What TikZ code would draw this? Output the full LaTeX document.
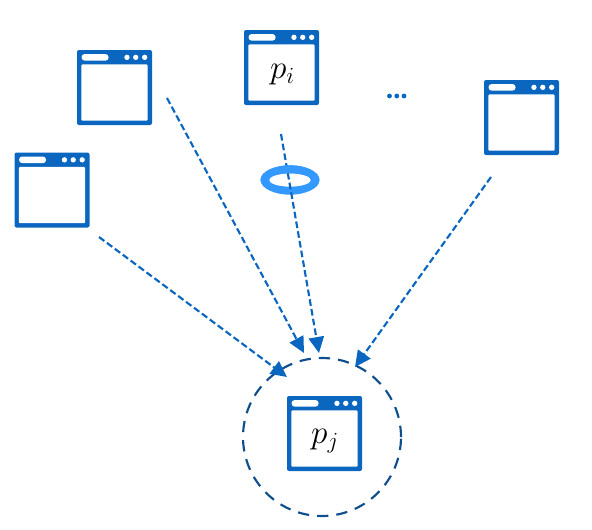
\documentclass[tikz,border=0pt]{standalone}
\usetikzlibrary{arrows.meta}
\definecolor{winblue}{HTML}{0A66BE}
\definecolor{ringblue}{HTML}{3399FF}
\definecolor{circblue}{HTML}{0F4E8C}
\tikzset{
  x=0.75pt,y=-0.75pt,
  winbox/.style={draw=none,fill=winblue,rounded corners=1.5pt,minimum width=56.25pt,minimum height=56.25pt,inner sep=0pt,outer sep=0pt},
  flow/.style={draw=winblue,line width=1.6pt,dash pattern=on 5pt off 2.4pt,-{Triangle[length=12pt,width=11.5pt]}},
  ringshape/.style={fill=ringblue,even odd rule},
  peer/.style={draw=circblue,line width=1.6pt,dash pattern=on 8.5pt off 6pt,circle,minimum size=118.5pt,inner sep=0pt,outer sep=0pt},
  lbl/.style={font=\fontsize{26}{26}\selectfont,inner sep=0pt}
}
\newcommand{\winpic}[1]{%
  \fill[white,rounded corners=0.8pt] ([xshift=3.3pt,yshift=-10.8pt]#1.north west) rectangle ([xshift=-3.3pt,yshift=3.2pt]#1.south east);
  \fill[white,rounded corners=2.4pt] ([xshift=3.4pt,yshift=-3pt]#1.north west) rectangle ([xshift=23.7pt,yshift=-8pt]#1.north west);
  \foreach \dx in {5.5,12.2,18.8} \fill[white] ([xshift=-\dx pt,yshift=-5.5pt]#1.north east) circle (2pt);
}
\begin{document}
\begin{tikzpicture}
\useasboundingbox (0,0) rectangle (592,529);
\node[winbox] (wa) at (114.5,87.5) {};
\node[winbox] (wb) at (52,190) {};
\node[winbox] (wc) at (281.5,67.5) {};
\node[winbox] (wd) at (521.5,117.5) {};
\node[winbox] (we) at (324.5,433.5) {};
\winpic{wa}\winpic{wb}\winpic{wc}\winpic{wd}\winpic{we}
\node[lbl] (pi) at (282.5,74.5) {$p_i$};
\node[lbl] (pj) at (325,441) {$p_j$};
\node[peer] (peer) at (322,437) {};
\fill[ringshape] (290,180) ellipse [x radius=22.1pt,y radius=11pt] (290,180) ellipse [x radius=15.8pt,y radius=5pt];
\coordinate (sa) at (167,98);
\coordinate (sb) at (99,237);
\coordinate (sc) at (281,134);
\coordinate (sd) at (491,177);
\coordinate (ea) at (304,353);
\coordinate (eb) at (287,377);
\coordinate (ec) at (319,353);
\coordinate (ed) at (355,367);
\draw[flow] (sa) -- (ea);
\draw[flow] (sb) -- (eb);
\draw[flow] (sc) -- (ec);
\draw[flow] (sd) -- (ed);
\begin{scope}
\clip (255,160) rectangle (325,180);
\fill[ringshape] (290,180) ellipse [x radius=22.1pt,y radius=11pt] (290,180) ellipse [x radius=15.8pt,y radius=5pt];
\end{scope}
\node[fill=winblue,circle,inner sep=0pt,minimum size=3.6pt] (d1) at (389.5,96) {};
\node[fill=winblue,circle,inner sep=0pt,minimum size=3.6pt] (d2) at (396.8,96) {};
\node[fill=winblue,circle,inner sep=0pt,minimum size=3.6pt] (d3) at (404,96) {};
\end{tikzpicture}
\end{document}
